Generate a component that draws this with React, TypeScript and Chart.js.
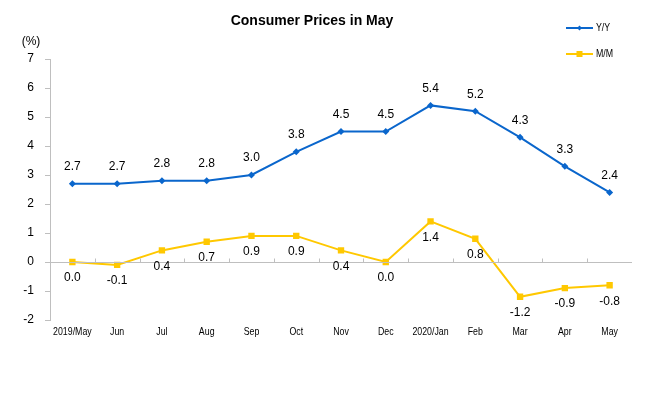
import React, { useEffect, useRef } from "react";
import { Chart, registerables } from "chart.js";

Chart.register(...registerables);

const categories = ["2019/May", "Jun", "Jul", "Aug", "Sep", "Oct", "Nov", "Dec", "2020/Jan", "Feb", "Mar", "Apr", "May"];
const yoy = [2.7, 2.7, 2.8, 2.8, 3.0, 3.8, 4.5, 4.5, 5.4, 5.2, 4.3, 3.3, 2.4];
const mom = [0.0, -0.1, 0.4, 0.7, 0.9, 0.9, 0.4, 0.0, 1.4, 0.8, -1.2, -0.9, -0.8];
const seriesNames = ["Y/Y", "M/M"];
const titleText = "Consumer Prices in May";
const unitText = "(%)";

const BLUE = "#0a66cc";
const YELLOW = "#ffc800";
const FONT = "'Liberation Sans', Arial, sans-serif";
const NARROW_SCALE = 0.8;

function fillNarrow(ctx: any, text: string, x: number, y: number, align: string) {
  ctx.save();
  ctx.translate(x, y);
  ctx.scale(NARROW_SCALE, 1);
  ctx.textAlign = align;
  ctx.fillText(text, 0, 0);
  ctx.restore();
}

const decorPlugin = {
  id: "decor",
  afterDraw(chart: any) {
    const ctx = chart.ctx;
    const area = chart.chartArea;
    const x = chart.scales.x;
    const y = chart.scales.y;
    ctx.save();
    // zero line
    const y0 = Math.round(y.getPixelForValue(0)) + 0.5;
    ctx.strokeStyle = "#bfbfbf";
    ctx.lineWidth = 1;
    ctx.beginPath();
    ctx.moveTo(area.left, y0);
    ctx.lineTo(area.right, y0);
    for (let i = 1; i < categories.length; i++) {
      const px = Math.round((x.getPixelForValue(i - 1) + x.getPixelForValue(i)) / 2) + 0.5;
      ctx.moveTo(px, y0);
      ctx.lineTo(px, y0 - 4);
    }
    ctx.stroke();

    // title
    ctx.fillStyle = "#000";
    ctx.font = `bold 14px ${FONT}`;
    ctx.textAlign = "center";
    ctx.textBaseline = "middle";
    ctx.fillText(titleText, 312, 21);

    // unit
    ctx.font = `12px ${FONT}`;
    ctx.textAlign = "center";
    ctx.fillText(unitText, 31, 42);

    // x category labels (narrow)
    ctx.font = `11px ${FONT}`;
    categories.forEach((c, i) => {
      fillNarrow(ctx, c, x.getPixelForValue(i), area.bottom + 12, "center");
    });

    // data labels
    ctx.font = `12px ${FONT}`;
    ctx.textAlign = "center";
    yoy.forEach((v, i) => {
      ctx.fillText(v.toFixed(1), x.getPixelForValue(i), y.getPixelForValue(v) - 17);
    });
    mom.forEach((v, i) => {
      ctx.fillText(v.toFixed(1), x.getPixelForValue(i), y.getPixelForValue(v) + 16);
    });

    // legend
    const items = [
      { name: seriesNames[0], color: BLUE, style: "diamond", ly: 28 },
      { name: seriesNames[1], color: YELLOW, style: "square", ly: 54 },
    ];
    items.forEach((it) => {
      ctx.strokeStyle = it.color;
      ctx.lineWidth = 2;
      ctx.beginPath();
      ctx.moveTo(566, it.ly);
      ctx.lineTo(593, it.ly);
      ctx.stroke();
      ctx.fillStyle = it.color;
      if (it.style === "diamond") {
        ctx.beginPath();
        ctx.moveTo(579.5, it.ly - 2.5);
        ctx.lineTo(582, it.ly);
        ctx.lineTo(579.5, it.ly + 2.5);
        ctx.lineTo(577, it.ly);
        ctx.closePath();
        ctx.fill();
      } else {
        ctx.fillRect(576.5, it.ly - 3, 6, 6);
      }
      ctx.fillStyle = "#000";
      ctx.font = `11px ${FONT}`;
      ctx.textBaseline = "middle";
      fillNarrow(ctx, it.name, 596, it.ly, "left");
    });
    ctx.restore();
  },
};

export default function App() {
  const ref = useRef<HTMLCanvasElement>(null);
  useEffect(() => {
    document.body.style.margin = "0";
    const chart = new Chart(ref.current as HTMLCanvasElement, {
      type: "line",
      data: {
        labels: categories,
        datasets: [
          {
            label: seriesNames[0],
            data: yoy,
            borderColor: BLUE,
            backgroundColor: BLUE,
            borderWidth: 2,
            pointStyle: "rectRot",
            pointRadius: 3.5,
            pointBorderWidth: 0,
            tension: 0,
          },
          {
            label: seriesNames[1],
            data: mom,
            borderColor: YELLOW,
            backgroundColor: YELLOW,
            borderWidth: 2,
            pointStyle: "rect",
            pointRadius: 4.5,
            pointBorderWidth: 0,
            tension: 0,
          },
        ],
      },
      options: {
        animation: false,
        responsive: false,
        devicePixelRatio: 1,
        layout: { padding: { top: 59, right: 30, left: 0, bottom: 0 } },
        plugins: { legend: { display: false }, title: { display: false }, tooltip: { enabled: false } },
        scales: {
          x: {
            offset: true,
            grid: { display: false, drawTicks: false },
            border: { display: false },
            ticks: { display: false },
            afterFit: (s: any) => { s.height = 78; },
          },
          y: {
            min: -2,
            max: 7,
            ticks: { stepSize: 1, color: "#000", font: { family: FONT, size: 12 }, padding: 11 },
            grid: { drawOnChartArea: false, drawTicks: true, tickLength: 5, color: "#bfbfbf" },
            border: { display: true, color: "#bfbfbf" },
            afterFit: (s: any) => { s.width = 50; },
          },
        },
      },
      plugins: [decorPlugin],
    });
    return () => chart.destroy();
  }, []);
  return (
    <div style={{ position: "absolute", left: 0, top: 0, width: 662, height: 398, background: "#fff" }}>
      <canvas ref={ref} width={662} height={398} style={{ width: 662, height: 398 }} />
    </div>
  );
}
